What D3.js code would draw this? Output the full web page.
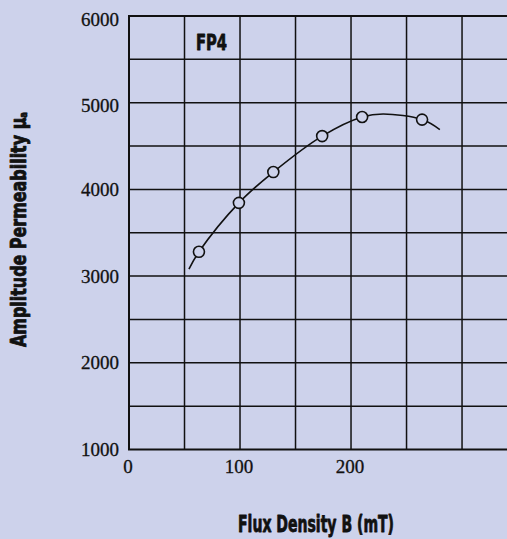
<!DOCTYPE html>
<html>
<head>
<meta charset="utf-8">
<script src="https://cdn.jsdelivr.net/npm/d3@7"></script>
<style>
  body { margin: 0; background: #cdd2eb; }
  svg { display: block; }
</style>
</head>
<body>
<div id="chart"></div>
<script>
// data
const markerB  = [63, 99, 130, 174, 210, 264];
const markerMu = [3280, 3845, 4200, 4615, 4835, 4805];

const curveB  = [54, 63, 99, 130, 174, 210, 229, 264, 280];
const curveMu = [3080, 3280, 3845, 4200, 4615, 4835, 4870, 4805, 4690];

const xTicks = [0, 100, 200];
const xGrid  = [50, 100, 150, 200, 250, 300];
const yTicks = [1000, 2000, 3000, 4000, 5000, 6000];
const yGrid  = [1500, 2000, 2500, 3000, 3500, 4000, 4500, 5000, 5500];

const W = 507, H = 539;
const bg = "#cdd2eb";
const ink = "#111";

const svg = d3.select("#chart").append("svg")
    .attr("width", W)
    .attr("height", H);

svg.append("rect").attr("width", W).attr("height", H).attr("fill", bg);

// scales
const x = d3.scaleLinear().domain([0, 340.5]).range([129, 507]);
const y = d3.scaleLinear().domain([1000, 6000]).range([449.5, 16]);

// grid
svg.append("g").selectAll("line")
    .data(xGrid)
    .join("line")
    .attr("x1", d => x(d)).attr("x2", d => x(d))
    .attr("y1", y(6000)).attr("y2", y(1000))
    .attr("stroke", ink).attr("stroke-width", 1.5);

svg.append("g").selectAll("line")
    .data(yGrid)
    .join("line")
    .attr("x1", x(0)).attr("x2", W)
    .attr("y1", d => y(d)).attr("y2", d => y(d))
    .attr("stroke", ink).attr("stroke-width", 1.5);

// frame: top, left, bottom
svg.append("path")
    .attr("d", `M${W},${y(6000)}H${x(0)}V${y(1000)}H${W}`)
    .attr("fill", "none")
    .attr("stroke", ink)
    .attr("stroke-width", 2);

// tick labels
svg.append("g").selectAll("text")
    .data(yTicks)
    .join("text")
    .attr("x", 119)
    .attr("y", d => y(d) + (d >= 5000 ? 3 : 0))
    .attr("dy", "0.35em")
    .attr("text-anchor", "end")
    .attr("font-family", "'Liberation Serif', 'DejaVu Serif', serif")
    .attr("font-size", 19)
    .attr("fill", ink)
    .attr("stroke", ink)
    .attr("stroke-width", 0.3)
    .text(d => d);

svg.append("g").selectAll("text")
    .data(xTicks)
    .join("text")
    .attr("x", d => x(d) - 1)
    .attr("y", 473)
    .attr("text-anchor", "middle")
    .attr("font-family", "'Liberation Serif', 'DejaVu Serif', serif")
    .attr("font-size", 19)
    .attr("fill", ink)
    .attr("stroke", ink)
    .attr("stroke-width", 0.3)
    .text(d => d);

// curve
const line = d3.line()
    .x(d => x(d[0]))
    .y(d => y(d[1]))
    .curve(d3.curveCatmullRom.alpha(0.5));

svg.append("path")
    .datum(curveB.map((b, i) => [b, curveMu[i]]))
    .attr("d", line)
    .attr("fill", "none")
    .attr("stroke", ink)
    .attr("stroke-width", 1.6);

// markers
svg.append("g").selectAll("circle")
    .data(markerB.map((b, i) => [b, markerMu[i]]))
    .join("circle")
    .attr("cx", d => x(d[0]))
    .attr("cy", d => y(d[1]))
    .attr("r", 5.5)
    .attr("fill", bg)
    .attr("stroke", ink)
    .attr("stroke-width", 1.6);

// titles (heavy condensed look)
const condensed = "'Liberation Sans Narrow', 'DejaVu Sans Condensed', 'Roboto Condensed', 'Liberation Sans', sans-serif";

function heavy(sel) {
    return sel
        .attr("font-family", condensed)
        .attr("font-weight", "900")
        .attr("lengthAdjust", "spacingAndGlyphs")
        .attr("fill", ink)
        .attr("stroke", ink)
        .attr("stroke-width", 0.8)
        .attr("stroke-linejoin", "round");
}

heavy(svg.append("text"))
    .attr("x", 196)
    .attr("y", 50)
    .attr("font-size", 22)
    .attr("textLength", 31)
    .text("FP4");

heavy(svg.append("text"))
    .attr("x", 238)
    .attr("y", 532)
    .attr("font-size", 23)
    .attr("textLength", 156)
    .text("Flux Density B (mT)");

const yTitle = heavy(svg.append("text"))
    .attr("transform", "translate(26,347) rotate(-90)")
    .attr("font-size", 21)
    .attr("textLength", 235);
yTitle.append("tspan").text("Amplitude Permeability μ");
yTitle.append("tspan")
    .attr("font-size", 11)
    .attr("dy", 1)
    .text("a");
</script>
</body>
</html>
